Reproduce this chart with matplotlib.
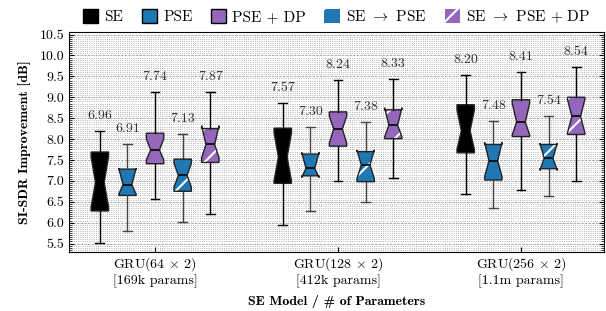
import matplotlib
matplotlib.use('Agg')

import matplotlib.pyplot as plt
import numpy as np
from matplotlib.patches import Patch, PathPatch
from matplotlib.ticker import MultipleLocator

plt.rcParams['font.family'] = 'cmr10'
plt.rcParams['mathtext.fontset'] = 'cm'
plt.rcParams['axes.formatter.use_mathtext'] = True
plt.rcParams['hatch.linewidth'] = 1.5

# groups and methods
groups = [r'GRU(64 $\times$ 2)' + '\n[169k params]',
          r'GRU(128 $\times$ 2)' + '\n[412k params]',
          r'GRU(256 $\times$ 2)' + '\n[1.1m params]']
methods = ['SE', 'PSE', 'PSE + DP', r'SE $\rightarrow$ PSE', r'SE $\rightarrow$ PSE + DP']
colors = ['black', '#1f77b4', '#9467bd', '#1f77b4', '#9467bd']
hatched = [False, False, False, True, True]

# box statistics, one row per method, one value per group
medians = [[6.96, 7.57, 8.20],
           [6.91, 7.30, 7.48],
           [7.74, 8.24, 8.41],
           [7.13, 7.38, 7.54],
           [7.87, 8.33, 8.54]]
q1 = [[6.28, 6.94, 7.67],
      [6.65, 7.12, 7.02],
      [7.41, 7.83, 8.06],
      [6.75, 6.98, 7.29],
      [7.44, 8.01, 8.11]]
q3 = [[7.69, 8.26, 8.82],
      [7.28, 7.64, 7.87],
      [8.14, 8.65, 8.94],
      [7.52, 7.70, 7.87],
      [8.25, 8.70, 9.00]]
whislo = [[5.52, 5.94, 6.69],
          [5.80, 6.28, 6.34],
          [6.57, 7.00, 6.78],
          [6.02, 6.49, 6.63],
          [6.21, 7.06, 6.99]]
whishi = [[8.19, 8.86, 9.53],
          [7.87, 8.30, 8.42],
          [9.12, 9.41, 9.61],
          [8.11, 8.40, 8.55],
          [9.13, 9.44, 9.73]]
ci_lo = [[6.38, 7.00, 7.75],
         [6.68, 7.08, 7.10],
         [7.50, 7.90, 8.10],
         [6.85, 7.05, 7.25],
         [7.55, 8.05, 8.15]]
ci_hi = [[7.57, 8.15, 8.70],
         [7.30, 7.68, 7.92],
         [8.00, 8.55, 8.85],
         [7.42, 7.74, 7.90],
         [8.32, 8.75, 8.95]]

fig = plt.figure(figsize=(6.06, 3.11), dpi=100)
ax = fig.add_axes([0.114, 0.19, 0.883, 0.707])

offset = 0.151
width = 0.095
x = np.arange(len(groups))

for m in range(len(methods)):
    stats = []
    for g in range(len(groups)):
        stats.append(dict(med=medians[m][g], q1=q1[m][g], q3=q3[m][g],
                          whislo=whislo[m][g], whishi=whishi[m][g],
                          cilo=ci_lo[m][g], cihi=ci_hi[m][g], fliers=[]))
    pos = x + (m - 2) * offset
    wcol = '#444444' if colors[m] == '#1f77b4' else 'black'
    bp = ax.bxp(stats, positions=pos, widths=width, shownotches=True,
                patch_artist=True, showfliers=False, manage_ticks=False,
                medianprops=dict(color='black', linewidth=1.2),
                whiskerprops=dict(color=wcol, linewidth=1.0),
                capprops=dict(color=wcol, linewidth=1.0),
                boxprops=dict(facecolor=colors[m], edgecolor='#222222', linewidth=1.0))
    for box in bp['boxes']:
        if hatched[m]:
            box.set_edgecolor('white')
            box.set_hatch('/')
            box.set_linewidth(0)
            ax.add_patch(PathPatch(box.get_path(), facecolor='none',
                                   edgecolor='#222222', linewidth=1.0, zorder=box.get_zorder() + 0.1))
    for g in range(len(groups)):
        ax.text(pos[g], whishi[m][g] + 0.36, '%.2f' % medians[m][g],
                ha='center', va='center', fontsize=10, color='#333333')

ax.set_xlim(-0.47, 2.455)
ax.set_ylim(5.3, 10.56)
ax.set_xticks(x)
ax.set_xticklabels(groups, fontsize=10, linespacing=1.1)
ax.yaxis.set_major_locator(MultipleLocator(0.5))
ax.yaxis.set_minor_locator(MultipleLocator(0.05))
ax.set_yticks(np.arange(5.5, 10.51, 0.5))
ax.set_yticklabels(['%.1f' % v for v in np.arange(5.5, 10.51, 0.5)], fontsize=10)
ax.tick_params(axis='y', which='minor', length=2, width=0.5, direction='in', right=True)
ax.tick_params(axis='y', which='major', length=3.5, width=0.8, direction='in', right=True)
ax.tick_params(axis='x', which='major', length=3.5, width=0.8, direction='in', pad=2.5)

ax.yaxis.grid(True, which='major', linestyle='--', color='#888888', linewidth=0.5)
ax.yaxis.grid(True, which='minor', linestyle=':', color='#999999', linewidth=0.6)
ax.set_axisbelow(True)

ax.set_ylabel('SI-SDR Improvement [dB]', fontsize=10, family='cmb10', labelpad=6)
ax.set_xlabel('SE Model / # of Parameters', fontsize=10, family='cmb10', labelpad=5)

handles = []
for m in range(len(methods)):
    if hatched[m]:
        handles.append(Patch(facecolor=colors[m], edgecolor='white', hatch='/', linewidth=0))
    else:
        handles.append(Patch(facecolor=colors[m], edgecolor='black', linewidth=1.0))
ax.legend(handles, methods, loc='lower center', bbox_to_anchor=(0.5, 0.99), ncol=5,
          frameon=False, fontsize=11, handlelength=1.0, handleheight=1.0,
          handletextpad=0.4, columnspacing=1.2, borderaxespad=0.2)

fig.savefig('out.png', dpi=100)
